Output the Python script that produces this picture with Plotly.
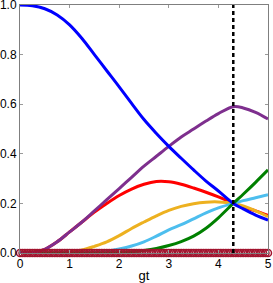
import plotly.graph_objects as go

# sample positions (gt)
x_main = [0, 0.25, 0.5, 0.75, 1.0, 1.25, 1.5, 1.75, 2.0, 2.25, 2.5, 2.75,
          3.0, 3.25, 3.5, 3.75, 4.0, 4.3, 4.5, 4.75, 5.0]

blue = [1.0, 0.997, 0.985, 0.96, 0.92, 0.865, 0.80, 0.735, 0.67, 0.603, 0.538, 0.482,
        0.43, 0.382, 0.335, 0.29, 0.25, 0.20, 0.178, 0.153, 0.133]
purple = [0, 0.002, 0.015, 0.045, 0.085, 0.125, 0.17, 0.215, 0.26, 0.305, 0.35, 0.39,
          0.43, 0.468, 0.50, 0.532, 0.562, 0.59, 0.585, 0.567, 0.54]
red = [0, 0.002, 0.015, 0.045, 0.085, 0.125, 0.165, 0.20, 0.232, 0.258, 0.277, 0.288,
       0.287, 0.277, 0.262, 0.245, 0.226, 0.20, 0.185, 0.17, 0.152]
yellow = [0, 0, 0, 0.001, 0.004, 0.012, 0.027, 0.045, 0.07, 0.099, 0.125, 0.15,
          0.172, 0.188, 0.199, 0.205, 0.206, 0.20, 0.19, 0.17, 0.147]
lightblue = [0, 0, 0, 0, 0, 0, 0.002, 0.007, 0.016, 0.028, 0.045, 0.068,
             0.093, 0.114, 0.138, 0.162, 0.182, 0.20, 0.211, 0.223, 0.235]
green = [0, 0, 0, 0, 0, 0, 0, 0, 0.002, 0.005, 0.01, 0.018,
         0.03, 0.046, 0.068, 0.1, 0.142, 0.20, 0.237, 0.285, 0.335]

circle_x = [i * 0.05 for i in range(101)]
circle_y = [0.0] * 101

marker_gt = 4.3

fig = go.Figure()

series = [
    (red, "#FF0000"),
    (yellow, "#EDB120"),
    (lightblue, "#4DBEEE"),
    (green, "#008000"),
    (purple, "#7E2F8E"),
    (blue, "#0000FF"),
]
for ys, col in series:
    fig.add_trace(go.Scatter(x=x_main, y=ys, mode="lines",
                             line=dict(color=col, width=3, shape="spline", smoothing=1.0),
                             showlegend=False, hoverinfo="skip"))

fig.add_trace(go.Scatter(x=circle_x, y=circle_y, mode="markers",
                         marker=dict(symbol="circle-open", size=7, color="#A2142F",
                                     line=dict(width=1.5, color="#A2142F")),
                         cliponaxis=False, showlegend=False, hoverinfo="skip"))

fig.add_trace(go.Scatter(x=[marker_gt, marker_gt], y=[0, 1], mode="lines",
                         line=dict(color="black", width=2.5, dash="4px,3px"),
                         showlegend=False, hoverinfo="skip"))

axis_common = dict(showline=True, mirror="ticks", linecolor="#7f7f7f", linewidth=1,
                   ticks="inside", ticklen=3, tickcolor="#9a9a9a", tickwidth=1,
                   showgrid=False, zeroline=False, automargin=False,
                   ticklabeloverflow="allow",
                   tickfont=dict(family="Liberation Sans, Arial", size=12, color="black"))

fig.update_layout(
    width=273, height=283,
    margin=dict(l=20, r=5, t=5, b=30, autoexpand=False),
    paper_bgcolor="white", plot_bgcolor="white",
    xaxis=dict(range=[0, 5], tickvals=[0, 1, 2, 3, 4, 5], ticktext=["0", "1", "2", "3", "4", "5"],
               title=dict(text="gt", font=dict(family="Liberation Sans, Arial", size=13, color="black"),
                          standoff=0),
               **axis_common),
    yaxis=dict(range=[0, 1], tickvals=[0, 0.2, 0.4, 0.6, 0.8, 1.0],
               ticktext=["0.0", "0.2", "0.4", "0.6", "0.8", "1.0"], **axis_common),
)

fig.write_html("out.html", config={"displayModeBar": False},
               post_script="document.body.style.margin='0';document.body.style.overflow='hidden';")
